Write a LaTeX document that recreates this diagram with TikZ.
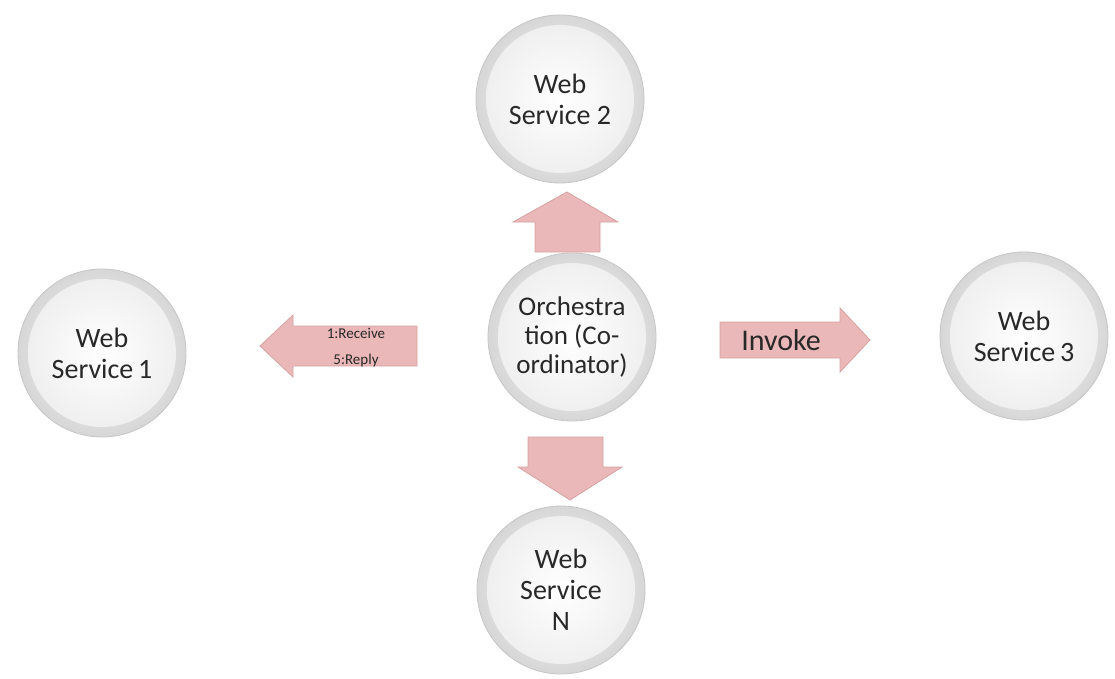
\documentclass[tikz,border=0pt]{standalone}
\usepackage{fontspec}
\setmainfont{Carlito}
\definecolor{arrowpink}{RGB}{234,184,184}
\definecolor{arrowedge}{RGB}{214,162,162}
\definecolor{txt}{RGB}{40,40,40}
\tikzset{
  ball/.style={circle, minimum size=168pt, inner sep=0pt, draw=gray!45, line width=0.8pt,
    inner color=white, outer color=gray!32, text=txt, align=center,
    font=\fontsize{28}{31}\selectfont,
    path picture={\shade[inner color=white, outer color=gray!14]
      (path picture bounding box.center) circle (74pt);}},
  arrowshape/.style={fill=arrowpink, draw=arrowedge, line width=0.8pt, line join=miter},
  arrowtext/.style={text=txt, inner sep=0pt, align=center}
}
\begin{document}
\begin{tikzpicture}[x=1pt,y=-1pt]
\useasboundingbox (0,0) rectangle (1115,679);
\fill[white] (0,0) rectangle (1115,679);

% service circles
\node[ball] (ws1) at (102,353) {Web\\Service\,1};
\node[ball] (ws2) at (560,99) {Web\\Service 2};
\node[ball] (ws3) at (1024,336) {Web\\Service\,3};
\node[ball, font=\fontsize{27}{29}\selectfont] (orch) at (572,337) {Orchestra\\tion (Co-\\ordinator)};
\node[ball] (wsn) at (561,590) {Web\\Service\\N};

% block arrows
\draw[arrowshape] (260,346) -- (293,315) -- (293,326) -- (417,326) -- (417,366) -- (293,366) -- (293,377) -- cycle;
\draw[arrowshape] (720,322) -- (840,322) -- (840,308) -- (870,340) -- (840,372) -- (840,358) -- (720,358) -- cycle;
\draw[arrowshape] (567,192) -- (618,222) -- (600,222) -- (600,252) -- (535,252) -- (535,222) -- (513,222) -- cycle;
\draw[arrowshape] (528,437) -- (603,437) -- (603,467) -- (622,467) -- (570,500) -- (518,467) -- (528,467) -- cycle;

\node[arrowtext, font=\fontsize{15}{26}\selectfont] (recv) at (356,348) {1:Receive\\5:Reply};
\node[arrowtext, font=\fontsize{30}{32}\selectfont] (inv) at (781,340) {Invoke};
\end{tikzpicture}
\end{document}
